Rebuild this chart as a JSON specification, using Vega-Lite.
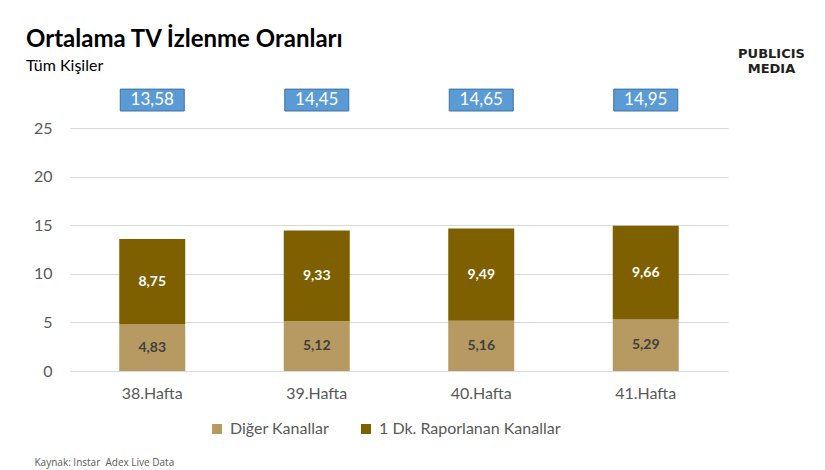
{
  "$schema": "https://vega.github.io/schema/vega-lite/v6.json",
  "autosize": "none",
  "width": 658,
  "height": 243,
  "padding": {"left": 70, "top": 128, "right": 97, "bottom": 99},
  "background": "white",
  "title": {
    "text": "Ortalama TV İzlenme Oranları",
    "subtitle": "Tüm Kişiler",
    "anchor": "start",
    "frame": "group",
    "dx": -44,
    "offset": -27,
    "font": "Lato",
    "fontSize": 24,
    "fontWeight": "bold",
    "color": "#000000",
    "subtitleFont": "Lato",
    "subtitleFontSize": 16,
    "subtitleColor": "#000000",
    "subtitlePadding": 6
  },
  "data": {
    "values": [
      {"week": "38.Hafta", "series": "Diğer Kanallar", "value": 4.83},
      {"week": "38.Hafta", "series": "1 Dk. Raporlanan Kanallar", "value": 8.75},
      {"week": "39.Hafta", "series": "Diğer Kanallar", "value": 5.12},
      {"week": "39.Hafta", "series": "1 Dk. Raporlanan Kanallar", "value": 9.33},
      {"week": "40.Hafta", "series": "Diğer Kanallar", "value": 5.16},
      {"week": "40.Hafta", "series": "1 Dk. Raporlanan Kanallar", "value": 9.49},
      {"week": "41.Hafta", "series": "Diğer Kanallar", "value": 5.29},
      {"week": "41.Hafta", "series": "1 Dk. Raporlanan Kanallar", "value": 9.66}
    ]
  },
  "encoding": {
    "x": {
      "field": "week",
      "type": "nominal",
      "sort": null,
      "scale": {"paddingInner": 0.6, "paddingOuter": 0.3},
      "axis": {
        "title": "Kaynak: Instar\u00a0 Adex Live Data",
        "titleFont": "Open Sans",
        "titleFontSize": 10,
        "titleFontWeight": "normal",
        "titleColor": "#595959",
        "titleAnchor": "start",
        "titleAlign": "left",
        "titleBaseline": "alphabetic",
        "titleX": -36,
        "titleY": 94,
        "labelAngle": 0,
        "labelFont": "Lato",
        "labelFontSize": 16,
        "labelColor": "#595959",
        "labelPadding": 14,
        "ticks": false,
        "domain": false,
        "grid": false
      }
    }
  },
  "layer": [
    {
      "mark": {"type": "bar", "width": 66},
      "encoding": {
        "y": {
          "field": "value",
          "type": "quantitative",
          "stack": "zero",
          "scale": {"domain": [0, 25], "nice": false},
          "axis": {
            "values": [0, 5, 10, 15, 20, 25],
            "title": ["PUBLICIS", "MEDIA"],
            "titleAngle": 0,
            "titleAlign": "center",
            "titleBaseline": "alphabetic",
            "titleX": 701,
            "titleY": -71,
            "titleFont": "DejaVu Sans",
            "titleFontSize": 13,
            "titleFontWeight": "bold",
            "titleLineHeight": 15,
            "titleColor": "#231F20",
            "labelFont": "Lato",
            "labelFontSize": 16,
            "labelColor": "#595959",
            "labelPadding": 18,
            "ticks": false,
            "domain": false,
            "gridColor": "#D9D9D9",
            "gridWidth": 1
          }
        },
        "color": {
          "field": "series",
          "type": "nominal",
          "sort": ["Diğer Kanallar", "1 Dk. Raporlanan Kanallar"],
          "scale": {
            "domain": ["Diğer Kanallar", "1 Dk. Raporlanan Kanallar"],
            "range": ["#B79A62", "#7F6000"]
          },
          "legend": {
            "title": null,
            "orient": "none",
            "direction": "horizontal",
            "legendX": 139,
            "legendY": 293,
            "symbolType": "square",
            "symbolSize": 100,
            "symbolStrokeWidth": 0,
            "labelFont": "Lato",
            "labelFontSize": 16,
            "labelColor": "#595959",
            "labelOffset": 5,
            "labelLimit": 400,
            "columnPadding": 28
          }
        }
      }
    },
    {
      "transform": [
        {"stack": "value", "groupby": ["week"], "sort": [{"field": "series", "order": "descending"}], "as": ["v0", "v1"]},
        {"calculate": "(datum.v0 + datum.v1) / 2", "as": "mid"}
      ],
      "mark": {"type": "text", "font": "Lato", "fontSize": 14, "fontWeight": "bold", "baseline": "middle"},
      "encoding": {
        "y": {"field": "mid", "type": "quantitative"},
        "text": {"field": "value", "type": "quantitative", "format": ".2f"},
        "color": {
          "condition": {"test": "datum.series === 'Diğer Kanallar'", "value": "#404040"},
          "value": "#FFFFFF"
        }
      }
    },
    {
      "transform": [
        {"aggregate": [{"op": "sum", "field": "value", "as": "total"}], "groupby": ["week"]}
      ],
      "mark": {"type": "bar", "width": 64, "color": "#5B9BD5", "stroke": "#41719C", "strokeWidth": 1},
      "encoding": {
        "y": {"datum": 26.75},
        "y2": {"datum": 29.0}
      }
    },
    {
      "transform": [
        {"aggregate": [{"op": "sum", "field": "value", "as": "total"}], "groupby": ["week"]}
      ],
      "mark": {"type": "text", "font": "Lato", "fontSize": 17, "color": "#FFFFFF", "baseline": "middle"},
      "encoding": {
        "y": {"datum": 27.88},
        "text": {"field": "total", "type": "quantitative", "format": ".2f"}
      }
    }
  ],
  "config": {
    "view": {"stroke": null},
    "locale": {
      "number": {"decimal": ",", "thousands": ".", "grouping": [3], "currency": ["", " ₺"]}
    }
  }
}
